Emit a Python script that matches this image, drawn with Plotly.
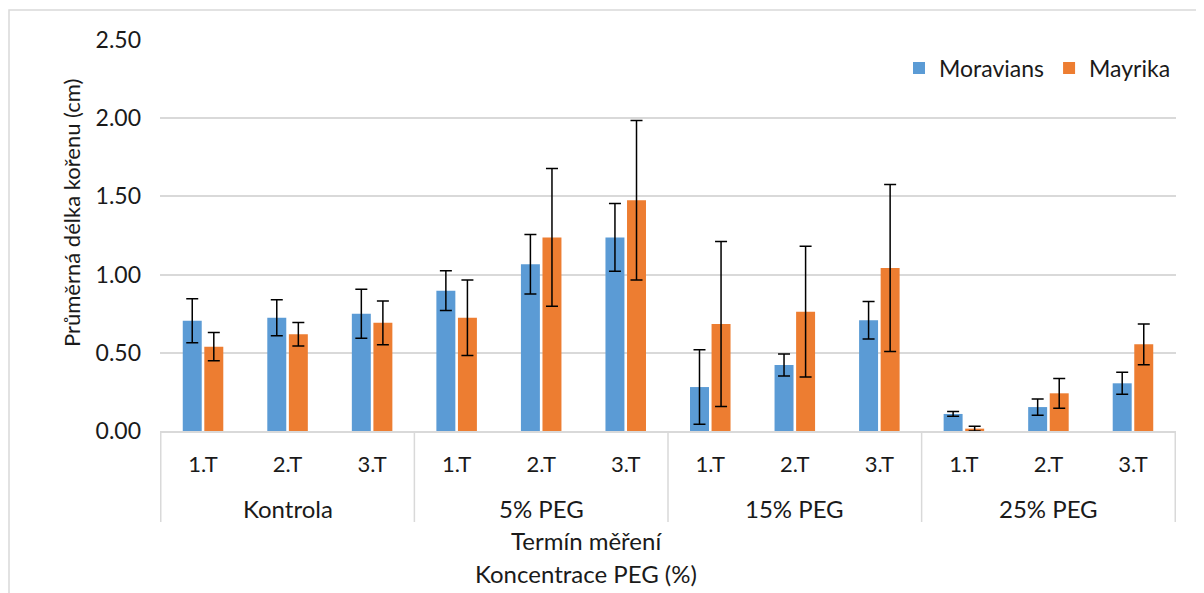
import plotly.graph_objects as go

groups = ["Kontrola", "5% PEG", "15% PEG", "25% PEG"]
terms = ["1.T", "2.T", "3.T"]

moravians = [0.705, 0.724, 0.750, 0.897, 1.066, 1.238, 0.281, 0.422, 0.708, 0.109, 0.153, 0.305]
moravians_err = [0.14, 0.115, 0.157, 0.127, 0.19, 0.217, 0.238, 0.07, 0.12, 0.015, 0.052, 0.07]
mayrika = [0.539, 0.618, 0.692, 0.724, 1.238, 1.475, 0.684, 0.763, 1.042, 0.015, 0.241, 0.554]
mayrika_err = [0.09, 0.075, 0.14, 0.242, 0.44, 0.51, 0.528, 0.418, 0.534, 0.015, 0.095, 0.13]

cats = [f"{g} {t}" for g in groups for t in terms]
tick_text = [t for _ in groups for t in terms]

FONT = "Lato"
OFF = 8  # page body margin
W, H = 1204 - OFF, 593 - OFF
L, R, T, B = 160 - OFF, 28, 40 - OFF, 162
PH = H - T - B
PW = W - L - R

def py(pix):
    return (H - B - (pix - OFF)) / PH

def px(pix):
    return ((pix - OFF) - L) / PW

fig = go.Figure()
for name, vals, errs, col in [("Moravians", moravians, moravians_err, "#5B9BD5"),
                              ("Mayrika", mayrika, mayrika_err, "#ED7D31")]:
    fig.add_trace(go.Bar(
        x=cats, y=vals, name=name, marker=dict(color=col, line=dict(width=0)),
        error_y=dict(type="data", array=errs, visible=True, color="black", thickness=1.5, width=6),
    ))

fig.update_layout(
    width=W, height=H,
    margin=dict(l=L, r=R, t=T, b=B),
    paper_bgcolor="white", plot_bgcolor="white",
    barmode="group", bargap=0.49, bargroupgap=0.12,
    font=dict(family=FONT, size=22, color="#1a1a1a"),
    legend=dict(orientation="h", x=1.0, xanchor="right", y=py(68), yanchor="middle",
                font=dict(size=23), bgcolor="rgba(0,0,0,0)", itemwidth=30),
    showlegend=True,
)
fig.update_yaxes(range=[0, 2.5], dtick=0.5, tickformat=".2f", showgrid=True,
                 gridcolor="#D9D9D9", gridwidth=1.5, zeroline=False, showline=False,
                 ticks="", ticklabelstandoff=18, automargin=False, tickfont=dict(size=23))
fig.update_xaxes(type="category", tickvals=cats, ticktext=tick_text,
                 showline=True, linecolor="#D9D9D9", linewidth=1.5,
                 ticks="", ticklabelstandoff=13, automargin=False, showgrid=False,
                 tickfont=dict(size=22))

# group labels and dividers of the category axis
for i, g in enumerate(groups):
    fig.add_annotation(text=g, xref="x", yref="paper", x=cats[3 * i + 1], y=py(508),
                       showarrow=False, yanchor="middle", font=dict(size=24))
for k in range(len(groups) + 1):
    fig.add_shape(type="line", xref="x", yref="paper", x0=3 * k - 0.5, x1=3 * k - 0.5,
                  y0=0, y1=py(522), line=dict(color="#D9D9D9", width=1.5))

fig.add_annotation(text="Průměrná délka kořenu (cm)", xref="paper", yref="paper",
                   x=px(72), y=py(213), textangle=-90, showarrow=False,
                   xanchor="center", yanchor="middle", font=dict(size=22))
fig.add_annotation(text="Termín měření", xref="paper", yref="paper",
                   x=px(586), y=py(540), showarrow=False, yanchor="middle", font=dict(size=24))
fig.add_annotation(text="Koncentrace PEG (%)", xref="paper", yref="paper",
                   x=px(586), y=py(573), showarrow=False, yanchor="middle", font=dict(size=24))
fig.add_shape(type="rect", xref="paper", yref="paper",
              x0=px(9), x1=px(1199), y0=py(600), y1=py(10),
              line=dict(color="#D9D9D9", width=1.5), layer="below")

fig.write_html("out.html")
